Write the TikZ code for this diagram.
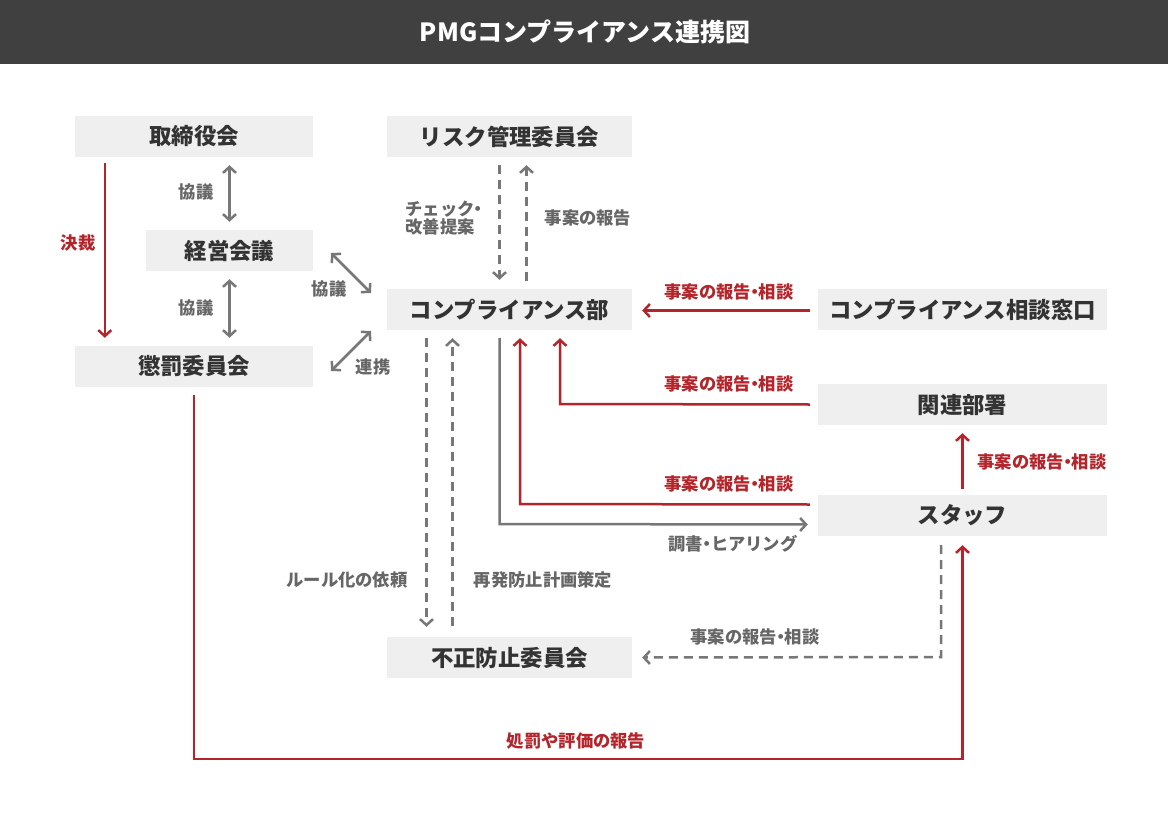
\documentclass[tikz,border=0pt]{standalone}
\usepackage{fontspec}
\setmainfont{Noto Sans CJK JP}
\usetikzlibrary{arrows.meta,calc}
\definecolor{boxgray}{HTML}{EFEFEF}
\definecolor{txt}{HTML}{333333}
\definecolor{lblgray}{HTML}{666666}
\definecolor{arrgray}{HTML}{777777}
\definecolor{pmgred}{HTML}{B3252B}
\definecolor{header}{HTML}{404040}
\newcommand{\ndot}{\kern-0.27em・\kern-0.27em}
\tikzset{
  box/.style={fill=boxgray, minimum height=41pt, inner sep=0pt, font=\bfseries\fontsize{22.4}{26}\selectfont, text=txt},
  lbl/.style={font=\bfseries\fontsize{17.3}{21}\selectfont, text=lblgray, inner sep=0pt, align=center},
  rlbl/.style={lbl, text=pmgred},
  rarr/.style={draw=pmgred, line width=2.5pt, -{Straight Barb[length=6pt,width=13pt]}},
  garr/.style={draw=arrgray, line width=2.5pt, -{Straight Barb[length=6pt,width=13pt]}},
  gdbl/.style={draw=arrgray, line width=2.5pt, {Straight Barb[length=6pt,width=13pt]}-{Straight Barb[length=6pt,width=13pt]}},
  gdash/.style={garr, dash pattern=on 9pt off 6pt}
}
\begin{document}
\begin{tikzpicture}[x=1pt,y=-1pt]
\useasboundingbox (0,0) rectangle (1168,827);
\fill[header] (0,0) rectangle (1168,64);
\node[font=\bfseries\fontsize{25}{29}\selectfont, text=white] (title) at (585,32) {PMGコンプライアンス連携図};

% boxes
\node[box, minimum width=238pt] (tori) at (194,136.5) {取締役会};
\node[box, minimum width=167pt] (keiei) at (229.5,250.5) {経営会議};
\node[box, minimum width=238pt] (chob) at (194,366.5) {懲罰委員会};
\node[box, minimum width=245pt] (risk) at (509.5,136.5) {リスク管理委員会};
\node[box, minimum width=245pt] (comp) at (509.5,309.5) {コンプライアンス部};
\node[box, minimum width=245pt] (fusei) at (509.5,657.5) {不正防止委員会};
\node[box, minimum width=289pt] (soudan) at (962.5,309.5) {コンプライアンス相談窓口};
\node[box, minimum width=289pt] (kanren) at (962.5,404.5) {関連部署};
\node[box, minimum width=289pt] (staff) at (962.5,515.5) {スタッフ};

% left column
\draw[rarr] ([xshift=30pt,yshift=-6pt]tori.south west) -- ([xshift=30pt,yshift=8pt]chob.north west);
\node[rlbl] (l1) at (78,243) {決裁};
\draw[gdbl] ([yshift=-8pt]tori.south -| keiei.north) -- ([yshift=8pt]keiei.north);
\node[lbl] (l2) at (196,192) {協議};
\draw[gdbl] ([yshift=-8pt]keiei.south) -- ([yshift=8pt]keiei.south |- chob.north);
\node[lbl] (l3) at (196,308) {協議};
\coordinate (d1a) at (331,253);
\coordinate (d1b) at (371,293);
\draw[gdbl] (d1a) -- (d1b);
\node[lbl] (l4) at (329,289) {協議};
\coordinate (d2a) at (371,331);
\coordinate (d2b) at (331,371);
\draw[gdbl] (d2a) -- (d2b);
\node[lbl] (l5) at (373,367) {連携};

% risk <-> comp
\draw[gdash] ([xshift=-10pt,yshift=-8pt]risk.south) -- ([xshift=-10pt,yshift=9pt]comp.north);
\draw[gdash] ([xshift=17pt,yshift=8pt]comp.north) -- ([xshift=17pt,yshift=-8pt]risk.south);
\node[lbl, align=left] (l6) at (444,218) {チェック\ndot\\[-3pt]改善提案};
\node[lbl] (l7) at (588,218) {事案の報告};

% comp <-> fusei
\draw[gdash] ([xshift=-83pt,yshift=-8pt]comp.south) -- ([xshift=-83pt,yshift=10pt]fusei.north);
\draw[gdash] ([xshift=-57pt,yshift=11pt]fusei.north) -- ([xshift=-57pt,yshift=-8pt]comp.south);
\node[lbl] (l8) at (347,580) {ルール化の依頼};
\node[lbl] (l9) at (543,580) {再発防止計画策定};

% comp -> staff (gray)
\coordinate (g2) at (499.5,524);
\draw[garr] ([xshift=-10pt,yshift=-8pt]comp.south) -- (g2) -- ([xshift=-10pt,yshift=-9pt]staff.west);
\node[lbl] (l10) at (733,544) {調書\ndot ヒアリング};

% red arrows into comp
\coordinate (r1) at (520,504);
\draw[rarr] ([xshift=-8pt,yshift=11pt]staff.west) -- (r1) -- ([xshift=10.5pt,yshift=-8pt]comp.south);
\node[rlbl] (l11) at (729,484) {事案の報告\ndot 相談};
\coordinate (r2) at (560,404);
\draw[rarr] ([xshift=-8pt]kanren.west) -- (r2) -- ([xshift=50.5pt,yshift=-8pt]comp.south);
\node[rlbl] (l12) at (729,384) {事案の報告\ndot 相談};
\draw[rarr] ([xshift=-8pt,yshift=-1pt]soudan.west) -- ([xshift=10pt,yshift=-1pt]comp.east);
\node[rlbl] (l13) at (729,292) {事案の報告\ndot 相談};

% staff -> kanren
\draw[rarr] ([yshift=6pt]staff.north) -- ([yshift=-8pt]kanren.south);
\node[rlbl] (l14) at (1042,462) {事案の報告\ndot 相談};

% staff -> fusei dashed
\coordinate (s1) at (941,657);
\draw[gdash] ([xshift=-21.5pt,yshift=-9pt]staff.south) -- (s1) -- ([xshift=10pt]fusei.east);
\node[lbl] (l15) at (755,637) {事案の報告\ndot 相談};

% chob -> staff red
\coordinate (c1) at (194,759);
\coordinate (c2) at (962.5,759);
\draw[rarr] ([yshift=-8pt]chob.south) -- (c1) -- (c2) -- ([yshift=-9pt]staff.south);
\node[rlbl] (l16) at (576,741) {処罰や評価の報告};
\end{tikzpicture}
\end{document}
